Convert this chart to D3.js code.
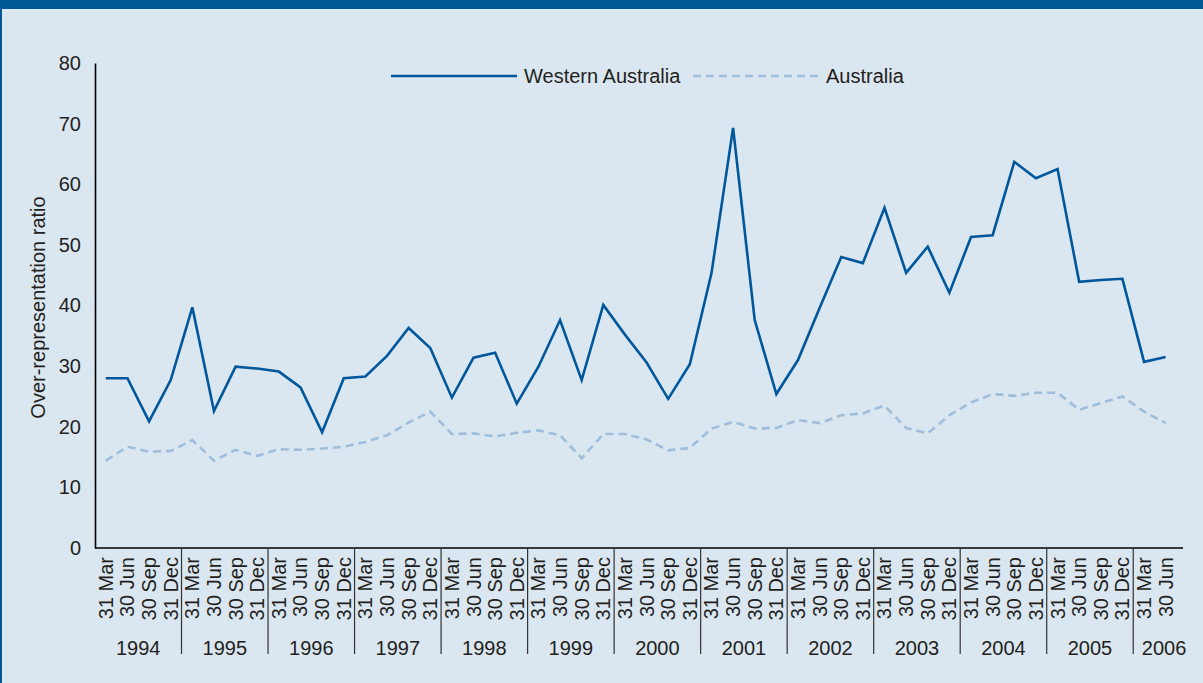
<!DOCTYPE html>
<html>
<head>
<meta charset="utf-8">
<script src="https://cdn.jsdelivr.net/npm/d3@7"></script>
<style>
  body { margin: 0; background: #dae6f0; }
  text { font-family: "Liberation Sans", Arial, Helvetica, sans-serif; fill: #231f20; }
</style>
</head>
<body>
<svg width="1203" height="683"></svg>
<script>
const years = ["1994", "1995", "1996", "1997", "1998", "1999", "2000",
  "2001", "2002", "2003", "2004", "2005", "2006"];
const quarters = ["31 Mar", "30 Jun", "30 Sep", "31 Dec"];

const westernAustralia = [
  28.0, 28.0, 20.9, 27.7,
  39.7, 22.6, 29.9, 29.6,
  29.1, 26.5, 19.1, 28.0,
  28.3, 31.7, 36.3, 33.0,
  24.8, 31.4, 32.2, 23.8,
  29.9, 37.6, 27.7, 40.1,
  35.2, 30.6, 24.6, 30.3,
  45.3, 69.3, 37.6, 25.4,
  31.0, 39.6, 48.0, 47.0,
  56.1, 45.4, 49.7, 42.1,
  51.3, 51.6, 63.7, 61.0,
  62.5, 43.9, 44.2, 44.4,
  30.7, 31.5
];
const australia = [
  14.4, 16.7, 15.9, 16.0,
  17.8, 14.4, 16.2, 15.2,
  16.3, 16.2, 16.4, 16.7,
  17.5, 18.6, 20.7, 22.5,
  18.8, 18.9, 18.4, 19.0,
  19.4, 18.6, 14.8, 18.8,
  18.8, 17.9, 16.1, 16.5,
  19.7, 20.8, 19.7, 19.8,
  21.1, 20.6, 21.9, 22.2,
  23.5, 19.8, 18.9, 21.9,
  24.0, 25.4, 25.1, 25.6,
  25.6, 22.8, 23.9, 25.0,
  22.5, 20.6
];
const yTicks = [0, 10, 20, 30, 40, 50, 60, 70, 80];

const svg = d3.select("body").select("svg");
const width = +svg.attr("width");
const height = +svg.attr("height");

const render = () => {
  const margin = { top: 63, left: 95, right: 27, bottom: 135 };
  const fontSize = 20;
  const data = westernAustralia.map((v, i) => ({
    key: i,
    year: years[Math.floor(i / 4)],
    quarter: quarters[i % 4],
    wa: v,
    aus: australia[i]
  }));

  // background and top bar
  svg.append("rect").attr("width", width).attr("height", height).attr("fill", "#dae6f0");
  svg.append("rect").attr("width", width).attr("height", 9).attr("fill", "#005896");
  svg.append("rect").attr("width", 2).attr("height", height).attr("fill", "#005896");

  const xScale = d3
    .scaleBand()
    .domain(data.map(d => d.key))
    .range([margin.left, margin.left + 50 * 21.63]);

  const yScale = d3
    .scaleLinear()
    .domain([0, 80])
    .range([height - margin.bottom, margin.top]);

  const xc = d => xScale(d.key) + xScale.bandwidth() / 2;
  const y0 = yScale(0);

  // y axis
  const yAxis = svg
    .append("g")
    .attr("transform", `translate(${margin.left},0)`)
    .call(d3.axisLeft(yScale).tickValues(yTicks).tickSize(0).tickPadding(14));
  yAxis.select(".domain").attr("stroke", "#000").attr("stroke-width", 1.6);
  yAxis.selectAll("text").attr("font-size", fontSize).attr("fill", "#231f20");

  svg
    .append("text")
    .attr("transform", `translate(45,${(yScale(0) + yScale(80)) / 2 + 2}) rotate(-90)`)
    .attr("text-anchor", "middle")
    .attr("font-size", fontSize)
    .text("Over-representation ratio");

  // x axis
  svg
    .append("line")
    .attr("x1", margin.left)
    .attr("x2", width - 20)
    .attr("y1", y0)
    .attr("y2", y0)
    .attr("stroke", "#000")
    .attr("stroke-width", 1.6);

  svg
    .append("g")
    .selectAll("text")
    .data(data)
    .enter()
    .append("text")
    .attr("transform", d => `translate(${xc(d) + 7},${y0 + 9}) rotate(-90)`)
    .attr("text-anchor", "end")
    .attr("font-size", fontSize)
    .text(d => d.quarter);

  // year separators and labels
  years.forEach((yr, j) => {
    const first = j * 4;
    const last = Math.min(first + 3, data.length - 1);
    const left = xScale(first);
    const right = j === years.length - 1 ? width - 8 : xScale(last) + xScale.bandwidth();
    if (j > 0) {
      svg
        .append("line")
        .attr("x1", left)
        .attr("x2", left)
        .attr("y1", y0)
        .attr("y2", y0 + 106)
        .attr("stroke", "#333")
        .attr("stroke-width", 1.2);
    }
    svg
      .append("text")
      .attr("x", (left + right) / 2)
      .attr("y", y0 + 107)
      .attr("text-anchor", "middle")
      .attr("font-size", fontSize)
      .text(yr);
  });

  // lines
  const waLine = d3.line().x(xc).y(d => yScale(d.wa));
  const ausLine = d3.line().x(xc).y(d => yScale(d.aus));

  svg
    .append("path")
    .datum(data)
    .attr("d", ausLine)
    .attr("fill", "none")
    .attr("stroke", "#9fbedb")
    .attr("stroke-width", 2.6)
    .attr("stroke-dasharray", "8,5");

  svg
    .append("path")
    .datum(data)
    .attr("d", waLine)
    .attr("fill", "none")
    .attr("stroke", "#00579b")
    .attr("stroke-width", 2.6)
    .attr("stroke-linejoin", "miter");

  // legend
  const legend = [
    { name: "Western Australia", x: 391, color: "#00579b", dash: null },
    { name: "Australia", x: 693, color: "#9fbedb", dash: "8,5" }
  ];
  const lg = svg.append("g").attr("transform", "translate(0,76)");
  legend.forEach(l => {
    lg.append("line")
      .attr("x1", l.x)
      .attr("x2", l.x + 126)
      .attr("stroke", l.color)
      .attr("stroke-width", 2.6)
      .attr("stroke-dasharray", l.dash);
    lg.append("text")
      .attr("x", l.x + 133)
      .attr("dy", "0.35em")
      .attr("font-size", fontSize)
      .text(l.name);
  });
};

render();
</script>
</body>
</html>
